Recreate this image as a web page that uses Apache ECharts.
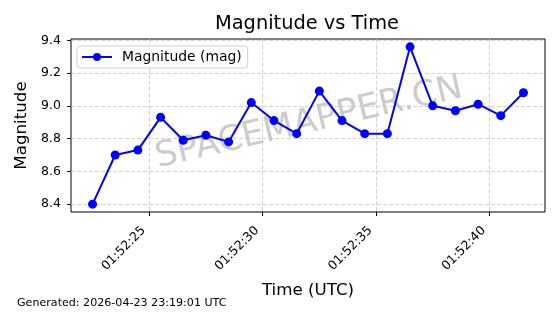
<!DOCTYPE html>
<html>
<head>
<meta charset="utf-8">
<script src="https://cdn.jsdelivr.net/npm/echarts@6/dist/echarts.min.js"></script>
<style>
  html, body { margin: 0; padding: 0; background: #fff; }
  #chart { width: 560px; height: 314px; }
</style>
</head>
<body>
<div id="chart"></div>
<script>
// observation times (UTC) and magnitudes
const times = [
  '01:52:22.5', '01:52:23.5', '01:52:24.5', '01:52:25.5', '01:52:26.5',
  '01:52:27.5', '01:52:28.5', '01:52:29.5', '01:52:30.5', '01:52:31.5',
  '01:52:32.5', '01:52:33.5', '01:52:34.5', '01:52:35.5', '01:52:36.5',
  '01:52:37.5', '01:52:38.5', '01:52:39.5', '01:52:40.5', '01:52:41.5'
];
const magnitude = [
  8.40, 8.70, 8.73, 8.93, 8.79, 8.82, 8.78, 9.02, 8.91, 8.83,
  9.09, 8.91, 8.83, 8.83, 9.36, 9.00, 8.97, 9.01, 8.94, 9.08
];
const xTicks = ['01:52:25', '01:52:30', '01:52:35', '01:52:40'];
const yTicks = [8.4, 8.6, 8.8, 9.0, 9.2, 9.4];

// hh:mm:ss -> seconds of the day
function toSec(s) {
  const p = s.split(':');
  return (+p[0]) * 3600 + (+p[1]) * 60 + parseFloat(p[2]);
}
function pad(n) {
  return String(n).padStart(2, '0');
}
function fmtSec(v) {
  const t = Math.round(v);
  return pad(Math.floor(t / 3600)) + ':' + pad(Math.floor(t / 60) % 60) + ':' + pad(t % 60);
}

const secs = times.map(toSec);
const xTickVals = xTicks.map(toSec);

// matplotlib style 5% margins
const xMinD = Math.min(...secs), xMaxD = Math.max(...secs);
const yMinD = Math.min(...magnitude), yMaxD = Math.max(...magnitude);
const xPad = (xMaxD - xMinD) * 0.05;
const yPad = (yMaxD - yMinD) * 0.05;

const font = 'DejaVu Sans';
const chart = echarts.init(document.getElementById('chart'));

const option = {
  animation: false,
  textStyle: { fontFamily: font },
  title: {
    text: 'Magnitude vs Time',
    left: 302,
    top: 9,
    textAlign: 'center',
    textStyle: { fontFamily: font, fontSize: 19.4, fontWeight: 'normal', color: '#000' }
  },
  legend: {
    left: 77,
    top: 46,
    orient: 'vertical',
    itemWidth: 30,
    itemHeight: 10,
    itemGap: 4,
    padding: [4, 6, 4, 4],
    backgroundColor: 'rgba(255,255,255,0.8)',
    borderColor: '#d0d0d0',
    borderWidth: 1,
    borderRadius: 3,
    textStyle: { fontFamily: font, fontSize: 13.9, color: '#000', padding: [0, 0, 0, 5] },
    data: ['Magnitude (mag)']
  },
  grid: {
    left: 71,
    right: 15,
    top: 39,
    bottom: 102,
    show: true,
    borderColor: '#000',
    borderWidth: 1,
    backgroundColor: 'transparent'
  },
  xAxis: {
    type: 'value',
    min: xMinD - xPad,
    max: xMaxD + xPad,
    name: 'Time (UTC)',
    nameLocation: 'middle',
    nameGap: 70,
    nameTextStyle: { fontFamily: font, fontSize: 16.7, color: '#000' },
    axisLine: { show: false },
    axisTick: {
      show: true,
      length: 4,
      customValues: xTickVals,
      lineStyle: { color: '#000', width: 1 }
    },
    axisLabel: {
      customValues: xTickVals,
      rotate: 45,
      margin: 11,
      padding: [0, 8, 0, 0],
      fontFamily: font,
      fontSize: 12.5,
      color: '#000',
      formatter: fmtSec
    },
    splitLine: {
      show: true,
      lineStyle: { color: '#c8c8c8', type: [4, 2], width: 0.8 }
    }
  },
  yAxis: {
    type: 'value',
    min: yMinD - yPad,
    max: yMaxD + yPad,
    name: 'Magnitude',
    nameLocation: 'middle',
    nameGap: 38,
    nameTextStyle: { fontFamily: font, fontSize: 16.7, color: '#000' },
    axisLine: { show: false },
    axisTick: {
      show: true,
      length: 4,
      customValues: yTicks,
      lineStyle: { color: '#000', width: 1 }
    },
    axisLabel: {
      customValues: yTicks,
      margin: 10,
      fontFamily: font,
      fontSize: 12.5,
      color: '#000',
      formatter: (v) => v.toFixed(1)
    },
    splitLine: {
      show: true,
      lineStyle: { color: '#c8c8c8', type: [4, 2], width: 0.8 }
    }
  },
  graphic: [
    {
      type: 'text',
      x: 309,
      y: 123,
      rotation: 13 * Math.PI / 180,
      style: {
        text: 'SPACEMAPPER.CN',
        x: 0,
        y: 0,
        align: 'center',
        verticalAlign: 'middle',
        fontFamily: font,
        fontSize: 35,
        fill: 'rgba(128,128,128,0.4)'
      },
      z: 0,
      silent: true
    },
    {
      type: 'text',
      left: 17,
      top: 298,
      style: {
        text: 'Generated: 2026-04-23 23:19:01 UTC',
        fontFamily: font,
        fontSize: 11.1,
        fill: '#000'
      }
    }
  ],
  series: [
    {
      name: 'Magnitude (mag)',
      type: 'line',
      data: secs.map((s, i) => [s, magnitude[i]]),
      symbol: 'circle',
      symbolSize: 9,
      showAllSymbol: true,
      lineStyle: { color: '#0000ff', width: 2 },
      itemStyle: { color: '#0000ff' },
      z: 3
    }
  ]
};

chart.setOption(option);
</script>
</body>
</html>
